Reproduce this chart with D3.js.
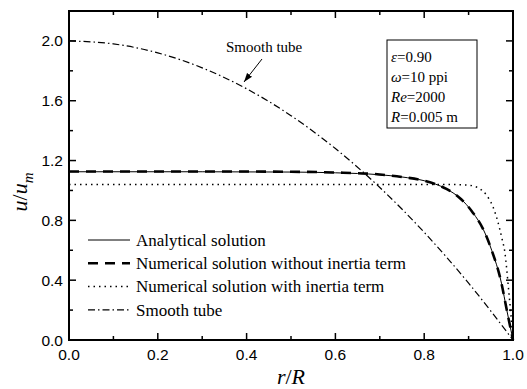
<!DOCTYPE html>
<html>
<head>
<meta charset="utf-8">
<script src="https://cdn.jsdelivr.net/npm/d3@7"></script>
<style>
  html, body { margin: 0; padding: 0; background: #fff; }
  svg { display: block; }
</style>
</head>
<body>
<svg id="chart"></svg>
<script>
// velocity profiles u/u_m against r/R, read as [r/R, u/u_m]
const analytical = [
  [0.0, 1.125], [0.3, 1.125], [0.5, 1.123], [0.6, 1.118], [0.7, 1.105],
  [0.75, 1.09], [0.8, 1.065], [0.85, 1.01], [0.88, 0.95], [0.91, 0.85],
  [0.933, 0.74], [0.952, 0.60], [0.974, 0.38], [0.986, 0.20], [1.0, 0.0]
];
const withoutInertia = [
  [0.0, 1.127], [0.3, 1.127], [0.5, 1.125], [0.6, 1.12], [0.7, 1.107],
  [0.75, 1.09], [0.8, 1.065], [0.85, 1.01], [0.88, 0.95], [0.91, 0.85],
  [0.933, 0.74], [0.952, 0.60], [0.974, 0.38], [0.986, 0.20], [1.0, 0.0]
];
const withInertia = [
  [0.0, 1.04], [0.5, 1.04], [0.85, 1.04], [0.9, 1.035], [0.92, 1.02],
  [0.94, 0.97], [0.955, 0.89], [0.965, 0.80], [0.975, 0.68], [0.982, 0.58],
  [0.99, 0.34], [0.995, 0.18], [1.0, 0.0]
];
const smoothTube = [
  [0.0, 2.0], [0.1, 1.98], [0.2, 1.92], [0.3, 1.82], [0.4, 1.68], [0.5, 1.5],
  [0.6, 1.28], [0.7, 1.02], [0.8, 0.72], [0.9, 0.38], [1.0, 0.0]
];

const legendLabels = [
  "Analytical solution",
  "Numerical solution without inertia term",
  "Numerical solution with inertia term",
  "Smooth tube"
];
const xTicks = [0, 0.2, 0.4, 0.6, 0.8, 1.0];
const yTicks = [0, 0.4, 0.8, 1.2, 1.6, 2.0];

const W = 527, H = 389;
const margin = { top: 11, right: 14, bottom: 49, left: 69 };
const iw = W - margin.left - margin.right;
const ih = H - margin.top - margin.bottom;

const svg = d3.select("#chart").attr("width", W).attr("height", H);
const g = svg.append("g").attr("transform", `translate(${margin.left},${margin.top})`);

const x = d3.scaleLinear().domain([0, 1]).range([0, iw]);
const y = d3.scaleLinear().domain([0, 2.2]).range([ih, 0]);

const serif = "'Liberation Serif', 'Times New Roman', serif";
const sans = "'Liberation Sans', Arial, sans-serif";

// ticks point inward on all four sides, with minor ticks in between
const xMinor = d3.range(0, 1.0001, 0.1);
const yMinor = d3.range(0, 2.2001, 0.2);
const isMajor = (v, list) => list.some(t => Math.abs(t - v) < 1e-6);

const ticks = g.append("g").attr("stroke", "#000").attr("stroke-width", 1.5);
xMinor.forEach(v => {
  const len = isMajor(v, xTicks) ? 7 : 4;
  ticks.append("line").attr("x1", x(v)).attr("x2", x(v)).attr("y1", ih).attr("y2", ih - len);
  ticks.append("line").attr("x1", x(v)).attr("x2", x(v)).attr("y1", 0).attr("y2", len);
});
yMinor.forEach(v => {
  const len = isMajor(v, yTicks) ? 7 : 4;
  ticks.append("line").attr("x1", 0).attr("x2", len).attr("y1", y(v)).attr("y2", y(v));
  ticks.append("line").attr("x1", iw).attr("x2", iw - len).attr("y1", y(v)).attr("y2", y(v));
});

g.append("rect")
  .attr("width", iw).attr("height", ih)
  .attr("fill", "none").attr("stroke", "#000").attr("stroke-width", 2);

// tick labels
g.append("g").selectAll("text").data(xTicks).join("text")
  .attr("x", d => x(d)).attr("y", ih + 20)
  .attr("text-anchor", "middle")
  .attr("font-family", sans).attr("font-size", 15.5)
  .text(d => d.toFixed(1));

g.append("g").selectAll("text").data(yTicks).join("text")
  .attr("x", -6).attr("y", d => y(d)).attr("dy", "0.36em")
  .attr("text-anchor", "end")
  .attr("font-family", sans).attr("font-size", 15.5)
  .text(d => d.toFixed(1));

// axis titles
const xt = svg.append("text")
  .attr("x", margin.left + iw / 2).attr("y", 384)
  .attr("text-anchor", "middle")
  .attr("font-family", serif).attr("font-size", 22).attr("font-style", "italic");
xt.append("tspan").text("r");
xt.append("tspan").attr("font-style", "normal").text("/");
xt.append("tspan").text("R");

const yt = svg.append("text")
  .attr("transform", "translate(27,192) rotate(-90)")
  .attr("text-anchor", "middle")
  .attr("font-family", serif).attr("font-size", 22).attr("font-style", "italic");
yt.append("tspan").text("u");
yt.append("tspan").attr("font-style", "normal").text("/");
yt.append("tspan").text("u");
yt.append("tspan").attr("font-size", 15).attr("dy", 6).text("m");

// curves
const line = d3.line()
  .x(d => x(d[0])).y(d => y(d[1]))
  .curve(d3.curveMonotoneX);

const styles = [
  { data: smoothTube, width: 1.2, dash: "7,3,1.5,3" },
  { data: withInertia, width: 1.5, dash: "1.5,4" },
  { data: withoutInertia, width: 2.6, dash: "10,7" },
  { data: analytical, width: 1, dash: null }
];
styles.forEach(s => {
  g.append("path")
    .datum(s.data)
    .attr("d", line)
    .attr("fill", "none")
    .attr("stroke", "#000")
    .attr("stroke-width", s.width)
    .attr("stroke-dasharray", s.dash);
});

// legend
const legendStyle = [
  { width: 1, dash: null },
  { width: 2.6, dash: "10,7" },
  { width: 1.5, dash: "1.5,4" },
  { width: 1.2, dash: "7,3,1.5,3" }
];
const legend = svg.append("g").attr("transform", "translate(88,240)");
legendLabels.forEach((label, i) => {
  const row = legend.append("g").attr("transform", `translate(0,${i * 23.3})`);
  row.append("line")
    .attr("x1", 0).attr("x2", 42).attr("y1", 0).attr("y2", 0)
    .attr("stroke", "#000")
    .attr("stroke-width", legendStyle[i].width)
    .attr("stroke-dasharray", legendStyle[i].dash);
  row.append("text")
    .attr("x", 48).attr("y", 0).attr("dy", "0.33em")
    .attr("font-family", serif).attr("font-size", 17)
    .text(label);
});

// parameter box
const box = svg.append("g").attr("transform", "translate(387,40)");
box.append("rect")
  .attr("width", 90).attr("height", 88)
  .attr("fill", "#fff").attr("stroke", "#000").attr("stroke-width", 1);
const params = [
  [["ε", true], ["=0.90", false]],
  [["ω", true], ["=10 ppi", false]],
  [["Re", true], ["=2000", false]],
  [["R", true], ["=0.005 m", false]]
];
params.forEach((parts, i) => {
  const t = box.append("text")
    .attr("x", 4).attr("y", 22 + i * 20)
    .attr("font-family", serif).attr("font-size", 15);
  parts.forEach(([s, it]) => t.append("tspan").attr("font-style", it ? "italic" : "normal").text(s));
});

// annotation with arrow
svg.append("text")
  .attr("x", 226).attr("y", 52)
  .attr("font-family", serif).attr("font-size", 15)
  .text("Smooth tube");

const defs = svg.append("defs");
defs.append("marker")
  .attr("id", "arrow").attr("viewBox", "0 0 10 10")
  .attr("refX", 10).attr("refY", 5)
  .attr("markerWidth", 9).attr("markerHeight", 9)
  .attr("orient", "auto")
  .append("path").attr("d", "M0,1.5 L10,5 L0,8.5 z").attr("fill", "#000");

svg.append("line")
  .attr("x1", 262).attr("y1", 59).attr("x2", 244).attr("y2", 82)
  .attr("stroke", "#000").attr("stroke-width", 1)
  .attr("marker-end", "url(#arrow)");
</script>
</body>
</html>
